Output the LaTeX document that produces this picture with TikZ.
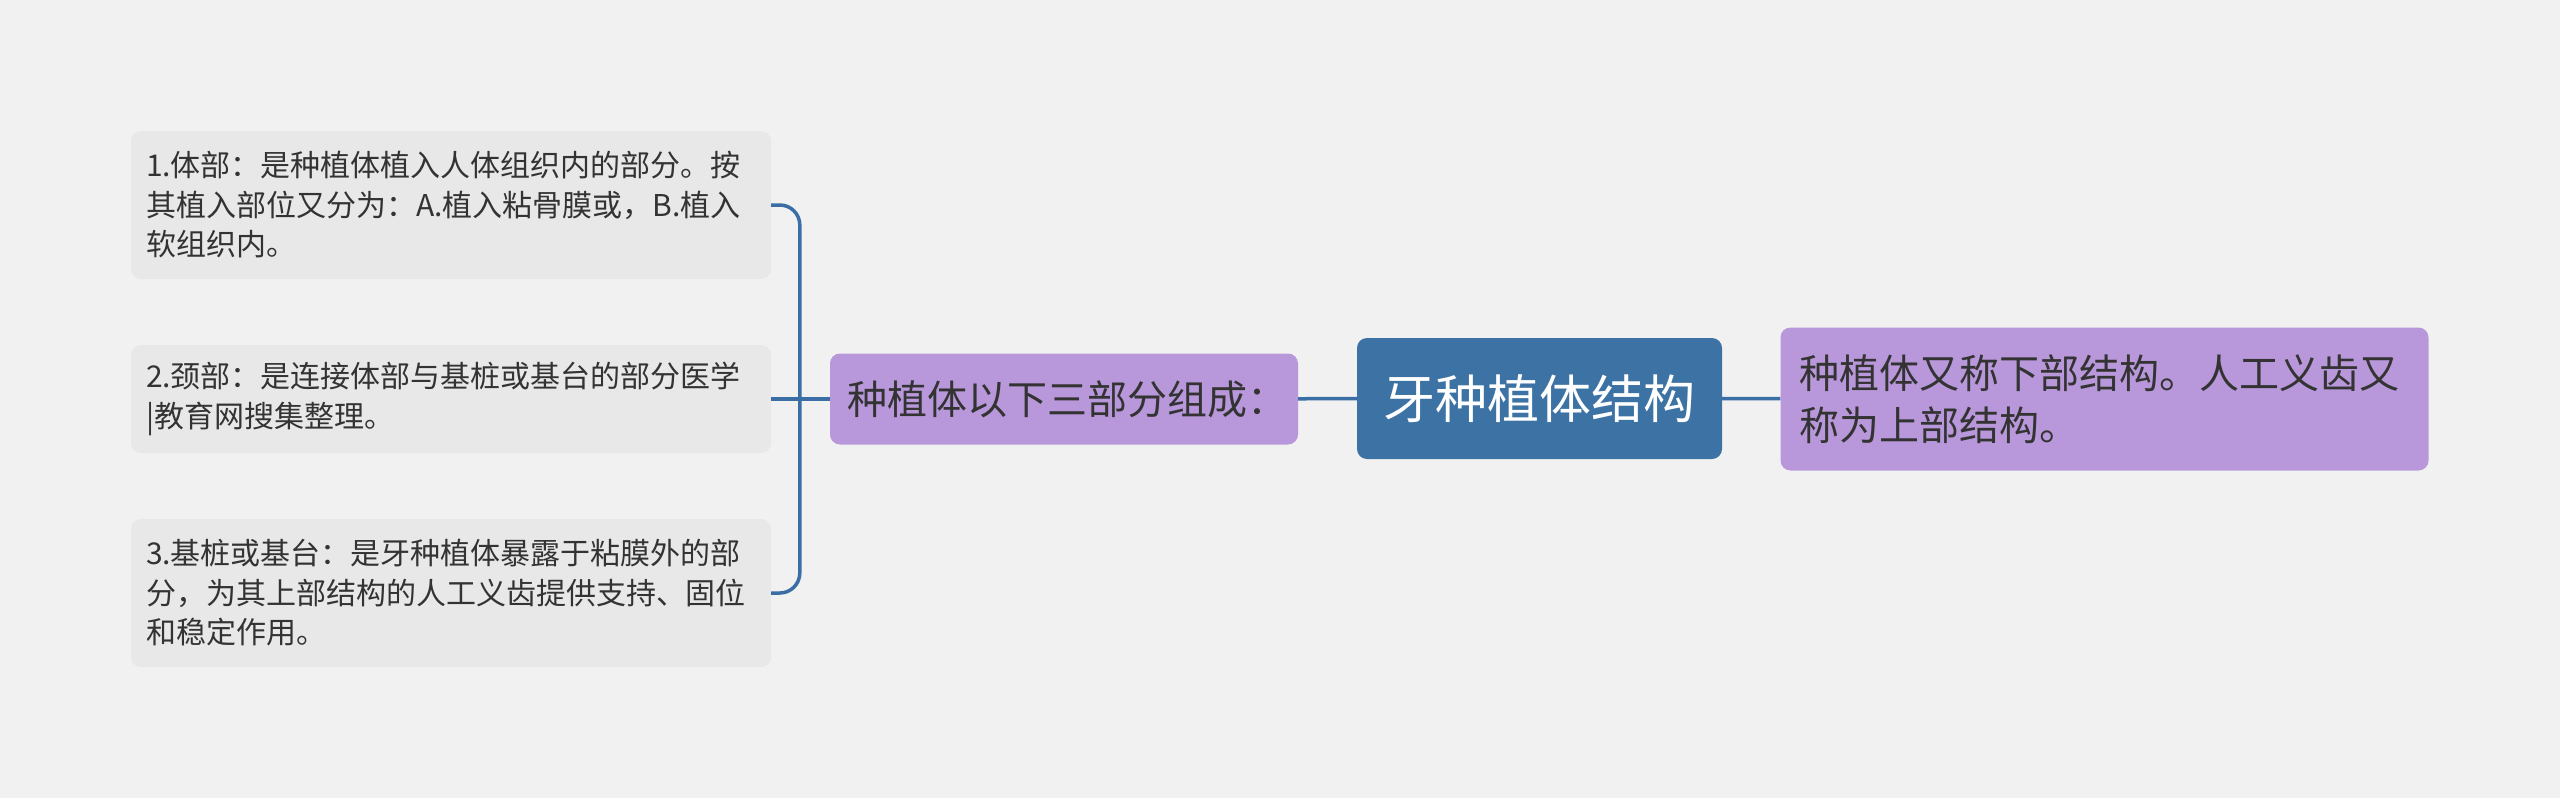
\documentclass[tikz,border=0pt]{standalone}
\usepackage{fontspec}
\setmainfont{Noto Sans CJK SC}
\definecolor{bg}{HTML}{F1F1F1}
\definecolor{leaffill}{HTML}{E8E8E8}
\definecolor{subfill}{HTML}{B898DA}
\definecolor{rootfill}{HTML}{3D72A4}
\definecolor{linkcol}{HTML}{3A6EA5}
\definecolor{txt}{HTML}{333333}
\begin{document}
\begin{tikzpicture}
  [x=1pt,y=-1pt,every node/.style={rounded corners=10pt,inner ysep=0pt},
   leafbox/.style={fill=leaffill,text=txt,align=left,text width=610pt,inner xsep=15pt,
     font=\fontsize{30}{39.5}\selectfont},
   subbox/.style={fill=subfill,text=txt,align=left,font=\fontsize{40}{52}\selectfont},
   rootbox/.style={fill=rootfill,text=white,minimum width=365pt,minimum height=121pt,
     font=\fontsize{52}{60}\selectfont},
   link/.style={draw=linkcol,line width=3.5pt}]
  \useasboundingbox[fill=bg] (0,0) rectangle (2560,798);
  \node[rootbox] (root) at (1539.5,398.5) {牙种植体结构};
  \node[subbox,minimum width=468pt,minimum height=91pt,inner xsep=17pt,text width=434pt] (sub) at (1064,399) {种植体以下三部分组成：};
  \node[subbox,minimum height=143pt,inner xsep=19pt,text width=610pt] (info) at (2104.5,399) {种植体又称下部结构。人工义齿又\\称为上部结构。};
  \node[leafbox,minimum height=148pt] (p1) at (451,205) {1.体部：是种植体植入人体组织内的部分。按\\其植入部位又分为：A.植入粘骨膜或，B.植入\\软组织内。};
  \node[leafbox,minimum height=108pt] (p2) at (451,399) {2.颈部：是连接体部与基桩或基台的部分医学\\|教育网搜集整理。};
  \node[leafbox,minimum height=148pt] (p3) at (451,593) {3.基桩或基台：是牙种植体暴露于粘膜外的部\\分，为其上部结构的人工义齿提供支持、固位\\和稳定作用。};
  \coordinate (fork) at ([xshift=-30pt]sub.west);

  \foreach \from/\to in {sub/root,root/info,p2/sub}
    \draw[link] (\from) -- (\to);
  \draw[link,rounded corners=20pt] (p1.east) -| (fork) |- (p3.east);
\end{tikzpicture}
\end{document}
